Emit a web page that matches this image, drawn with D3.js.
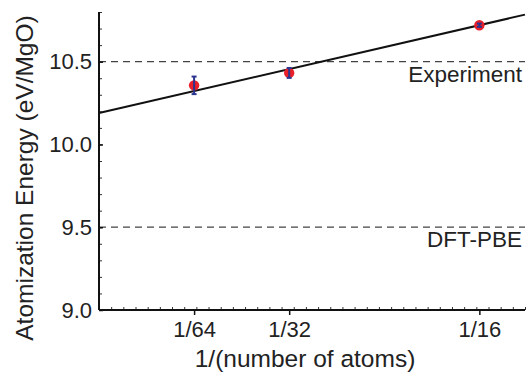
<!DOCTYPE html>
<html>
<head>
<meta charset="utf-8">
<script src="https://cdn.jsdelivr.net/npm/d3@7"></script>
<style>
  body { margin: 0; background: #fff; }
  svg { display: block; font-family: "Liberation Sans", Arial, sans-serif; }
</style>
</head>
<body>
<svg id="chart" width="531" height="375"></svg>
<script>
// data
const sizeLabels = ["1/64", "1/32", "1/16"]
const sizeValues = [1 / 64, 1 / 32, 1 / 16]
const energies = [10.357, 10.432, 10.72]
const errors = [0.053, 0.03, 0.01]
const fitX = [0, 0.07]
const fitY = [10.19, 10.784]
const refValues = [10.5, 9.5]
const refLabels = ["Experiment", "DFT-PBE"]
const yTicks = [9.0, 9.5, 10.0, 10.5]

const plot_left = 99, plot_right = 525, plot_top = 12, plot_bottom = 310

const svg = d3.select("#chart")

var x = d3.scaleLinear().domain([0, 0.07]).range([plot_left, plot_right])
var y = d3.scaleLinear().domain([9.0, 10.8]).range([plot_bottom, plot_top])

// minor ticks (inward)
svg.append("g")
    .attr("transform", "translate(0," + plot_bottom + ")")
    .call(d3.axisBottom(x).tickValues(d3.range(0.002, 0.0701, 0.002)).tickSize(-3).tickFormat(""))
    .call(g => g.select(".domain").remove())
    .selectAll("line").attr("stroke", "#333").attr("stroke-width", 1)

svg.append("g")
    .attr("transform", "translate(" + plot_left + ",0)")
    .call(d3.axisLeft(y).tickValues(d3.range(9.1, 10.81, 0.1)).tickSize(-3).tickFormat(""))
    .call(g => g.select(".domain").remove())
    .selectAll("line").attr("stroke", "#333").attr("stroke-width", 1)

// reference dashed lines
refValues.forEach(function (v, i) {
    svg.append("line")
        .attr("x1", x(0)).attr("x2", x(0.07))
        .attr("y1", y(v)).attr("y2", y(v))
        .attr("stroke", "#444")
        .attr("stroke-width", 1.3)
        .attr("stroke-dasharray", "7,5")
    svg.append("text")
        .attr("x", 522)
        .attr("y", y(v) + 20)
        .attr("text-anchor", "end")
        .attr("font-size", 22.5)
        .attr("fill", "#222")
        .text(refLabels[i])
})

// major axes
var xAxis = svg.append("g")
    .attr("transform", "translate(0," + plot_bottom + ")")
    .call(d3.axisBottom(x).tickValues(sizeValues).tickFormat((d, i) => sizeLabels[i]).tickSize(5).tickSizeOuter(0).tickPadding(6))
xAxis.select(".domain").attr("stroke", "#111").attr("stroke-width", 2).attr("d", "M" + plot_left + ",0H" + plot_right)
xAxis.selectAll("line").attr("stroke", "#111").attr("stroke-width", 1.5)
xAxis.selectAll("text").attr("font-size", 22).attr("fill", "#222")
xAxis.attr("font-family", null).attr("font-size", null)

var yAxis = svg.append("g")
    .attr("transform", "translate(" + plot_left + ",0)")
    .call(d3.axisLeft(y).tickValues(yTicks).tickFormat(d3.format(".1f")).tickSize(-4).tickSizeOuter(0).tickPadding(7))
yAxis.select(".domain").attr("stroke", "#111").attr("stroke-width", 2).attr("d", "M0," + plot_top + "V" + plot_bottom)
yAxis.selectAll("line").attr("stroke", "#111").attr("stroke-width", 1.5)
yAxis.selectAll("text").attr("font-size", 22).attr("fill", "#222")
yAxis.attr("font-family", null).attr("font-size", null)

// fit line
svg.append("path")
    .datum(d3.zip(fitX, fitY))
    .attr("d", d3.line().x(d => x(d[0])).y(d => y(d[1])))
    .attr("fill", "none")
    .attr("stroke", "#111")
    .attr("stroke-width", 2)

// points
const points = d3.zip(sizeValues, energies, errors)
svg.selectAll("circle.pt")
    .data(points)
    .join("circle")
    .attr("class", "pt")
    .attr("cx", d => x(d[0]))
    .attr("cy", d => y(d[1]))
    .attr("r", 5.2)
    .attr("fill", "#e8202a")

// error bars
var eb = svg.selectAll("g.eb")
    .data(points)
    .join("g")
    .attr("class", "eb")
    .attr("stroke", "#2b3590")
    .attr("stroke-width", 2)
eb.append("line")
    .attr("x1", d => x(d[0])).attr("x2", d => x(d[0]))
    .attr("y1", d => y(d[1] - d[2])).attr("y2", d => y(d[1] + d[2]))
eb.append("line")
    .attr("x1", d => x(d[0]) - 2.5).attr("x2", d => x(d[0]) + 2.5)
    .attr("y1", d => y(d[1] + d[2])).attr("y2", d => y(d[1] + d[2]))
eb.append("line")
    .attr("x1", d => x(d[0]) - 2.5).attr("x2", d => x(d[0]) + 2.5)
    .attr("y1", d => y(d[1] - d[2])).attr("y2", d => y(d[1] - d[2]))

// axis titles
svg.append("text")
    .attr("x", 305)
    .attr("y", 367)
    .attr("text-anchor", "middle")
    .attr("font-size", 24.5)
    .attr("fill", "#222")
    .text("1/(number of atoms)")

svg.append("text")
    .attr("transform", "translate(33,178) rotate(-90)")
    .attr("text-anchor", "middle")
    .attr("font-size", 24.5)
    .attr("fill", "#222")
    .text("Atomization Energy (eV/MgO)")
</script>
</body>
</html>
